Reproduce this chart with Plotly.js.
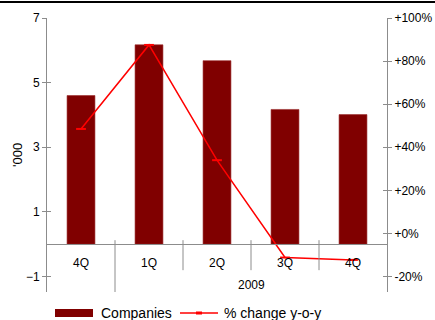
<!DOCTYPE html>
<html>
<head>
<meta charset="utf-8">
<script src="https://cdn.plot.ly/plotly-3.0.1.min.js"></script>
<style>
  html, body { margin: 0; padding: 0; background: #fff; }
  #chart { width: 435px; height: 320px; }
</style>
</head>
<body>
<div id="chart"></div>
<script>
// Quarterly company counts ('000) and year-on-year change (%)
const quarters = ['4Q', '1Q', '2Q', '3Q', '4Q'];
const years = ['', '2009', '2009', '2009', '2009'];
const companies = [4.6, 6.17, 5.68, 4.17, 4.01];
const yoyChange = [48.5, 87.5, 34, -11.2, -12.3];
const leftTicks = [-1, 1, 3, 5, 7];
const rightTicks = [-20, 0, 20, 40, 60, 80, 100];

const FONT = 'Liberation Sans, Arial, sans-serif';
const GREY = '#8c8c8c';

const W = 435, H = 320;
const M = { l: 47, r: 48, t: 18, b: 28 };
const plotW = W - M.l - M.r;
const plotH = H - M.t - M.b;

// Left axis range; the right axis shares the same pixel scale (1 unit = 15%)
const leftMin = -1.48, leftMax = 7;
const pctPerUnit = 15;
const rightMax = 100;
const rightMin = rightMax - (leftMax - leftMin) * pctPerUnit;

const idx = quarters.map((q, i) => i);
const zeroFrac = (0 - leftMin) / (leftMax - leftMin);
const px2fx = px => (px - M.l) / plotW;
const px2fy = py => (H - M.b - py) / plotH;

const bars = {
  type: 'bar',
  name: 'Companies',
  x: idx,
  y: companies,
  width: 0.41,
  marker: { color: '#800000', line: { color: '#9a2a2a', width: 0.6 } },
  yaxis: 'y',
  showlegend: false,
  hoverinfo: 'y'
};

const change = {
  type: 'scatter',
  mode: 'lines+markers',
  name: '% change y-o-y',
  x: idx,
  y: yoyChange,
  yaxis: 'y2',
  line: { color: '#ff0000', width: 1.5 },
  marker: { symbol: 'line-ew', size: 7, color: '#ff0000', line: { color: '#ff0000', width: 2 } },
  showlegend: false,
  cliponaxis: false
};

// Empty traces that keep the tick-only overlay axes active
const tickHolders = ['y3', 'y4'].map(ax => ({
  type: 'scatter', mode: 'markers', x: [null], y: [null],
  yaxis: ax, showlegend: false, hoverinfo: 'skip'
}));

const tickFont = { family: FONT, size: 12, color: '#000' };

// Category separators below the zero line; the one at the year change runs to the bottom
const shapes = [];
for (let i = 0; i < quarters.length - 1; i++) {
  const groupBreak = years[i] !== years[i + 1];
  shapes.push({
    type: 'line', xref: 'x', yref: 'paper',
    x0: i + 0.5, x1: i + 0.5,
    y0: zeroFrac + 4 / plotH,
    y1: groupBreak ? 0 : zeroFrac - 26 / plotH,
    line: { color: GREY, width: 1 }
  });
}
// Rule across the top of the figure
shapes.push({
  type: 'line', xref: 'paper', yref: 'paper',
  x0: px2fx(0), x1: px2fx(W), y0: px2fy(2), y1: px2fy(2),
  line: { color: '#000', width: 2 }
});

const annotations = [];
// Year label centred under its quarters
const yearNames = [...new Set(years.filter(y => y))];
yearNames.forEach(yr => {
  const pos = idx.filter(i => years[i] === yr);
  const mid = (pos[0] + pos[pos.length - 1]) / 2;
  annotations.push({
    text: yr, xref: 'x', yref: 'paper', x: mid, y: px2fy(285),
    showarrow: false, yanchor: 'middle', font: { family: FONT, size: 12, color: '#000' }
  });
});
// Left axis unit
annotations.push({
  text: "'000", xref: 'paper', yref: 'paper', x: px2fx(17), y: 0.5,
  textangle: -90, showarrow: false, xanchor: 'center', yanchor: 'middle',
  font: { family: FONT, size: 13, color: '#000' }
});

// Legend drawn below the plot
const legY = px2fy(313);
shapes.push({
  type: 'rect', xref: 'paper', yref: 'paper',
  x0: px2fx(55), x1: px2fx(93), y0: px2fy(309), y1: px2fy(317),
  fillcolor: '#800000', line: { width: 0 }
});
shapes.push({
  type: 'line', xref: 'paper', yref: 'paper',
  x0: px2fx(180), x1: px2fx(218), y0: legY, y1: legY,
  line: { color: '#ff0000', width: 1.5 }
});
shapes.push({
  type: 'line', xref: 'paper', yref: 'paper',
  x0: px2fx(196), x1: px2fx(202), y0: legY, y1: legY,
  line: { color: '#ff0000', width: 3 }
});
annotations.push({
  text: bars.name, xref: 'paper', yref: 'paper', x: px2fx(99), y: legY,
  xanchor: 'left', yanchor: 'middle', showarrow: false,
  font: { family: FONT, size: 14, color: '#000' }
});
annotations.push({
  text: change.name, xref: 'paper', yref: 'paper', x: px2fx(222), y: legY,
  xanchor: 'left', yanchor: 'middle', showarrow: false,
  font: { family: FONT, size: 14, color: '#000' }
});

const yCommon = {
  showgrid: false, zeroline: false, fixedrange: true
};

const layout = {
  width: W, height: H,
  margin: M,
  paper_bgcolor: '#fff', plot_bgcolor: '#fff',
  showlegend: false,
  xaxis: {
    range: [-0.5, quarters.length - 0.5],
    tickmode: 'array', tickvals: idx, ticktext: quarters,
    anchor: 'free', position: zeroFrac,
    showline: true, linecolor: GREY, linewidth: 1,
    ticks: 'outside', ticklen: 7, tickcolor: 'rgba(0,0,0,0)',
    showgrid: false, zeroline: false,
    tickfont: tickFont
  },
  yaxis: Object.assign({}, yCommon, {
    range: [leftMin, leftMax],
    tickmode: 'array', tickvals: leftTicks,
    showline: true, linecolor: GREY, linewidth: 1,
    ticks: 'outside', ticklen: 4, tickcolor: GREY,
    tickfont: tickFont
  }),
  yaxis2: Object.assign({}, yCommon, {
    overlaying: 'y', side: 'right',
    range: [rightMin, rightMax],
    tickmode: 'array', tickvals: rightTicks,
    ticktext: rightTicks.map(v => (v >= 0 ? '+' : '') + v + '%'),
    showline: true, linecolor: GREY, linewidth: 1,
    ticks: 'outside', ticklen: 4, tickcolor: GREY,
    tickfont: tickFont
  }),
  // Inner halves of the crossing tick marks
  yaxis3: Object.assign({}, yCommon, {
    overlaying: 'y', side: 'left',
    range: [leftMin, leftMax],
    tickmode: 'array', tickvals: leftTicks,
    showline: false, showticklabels: false,
    ticks: 'inside', ticklen: 4, tickcolor: GREY
  }),
  yaxis4: Object.assign({}, yCommon, {
    overlaying: 'y', side: 'right',
    range: [rightMin, rightMax],
    tickmode: 'array', tickvals: rightTicks,
    showline: false, showticklabels: false,
    ticks: 'inside', ticklen: 4, tickcolor: GREY
  }),
  shapes: shapes,
  annotations: annotations
};

Plotly.newPlot('chart', [bars, change].concat(tickHolders), layout, { displayModeBar: false, staticPlot: true });
</script>
</body>
</html>
